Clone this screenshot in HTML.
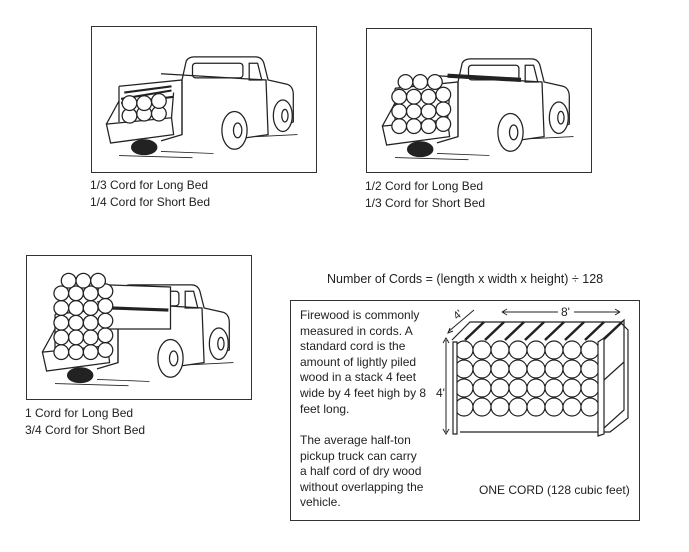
<!DOCTYPE html>
<html><head><meta charset="utf-8"><style>
html,body{margin:0;padding:0;background:#fff;width:689px;height:552px;overflow:hidden;position:relative;font-family:"Liberation Sans",sans-serif;color:#222}
.box{position:absolute;border:1px solid #333;box-sizing:border-box}
.t{position:absolute;font-size:12px;line-height:17px;white-space:nowrap}
svg{position:absolute;left:0;top:0}
</style></head><body>
<div class="box" style="left:91px;top:26px;width:226px;height:147px"></div>
<div class="box" style="left:366px;top:28px;width:226px;height:145px"></div>
<div class="box" style="left:26px;top:255px;width:226px;height:145px"></div>
<div class="box" style="left:290px;top:300px;width:350px;height:221px"></div>

<svg width="689" height="552" viewBox="0 0 689 552" fill="none" stroke="#222" stroke-width="1.2">
<defs>
<g id="truck">
 <path d="M80 40 L84 22 Q86 18 92 18 L150 18 Q156 18 158 24 L162 40 L180 44 Q186 46 186 54 L186 80 L176 84"/>
 <rect x="90" y="24" width="48" height="14" rx="3"/>
 <path d="M144 24 L152 24 L156 40 L144 40 Z"/>
 <path d="M60 34 L160 40 L162 92 L120 98"/>
 <path d="M80 40 L80 92"/>
 <path d="M20 46 L80 40 L80 92 L60 98"/>
 <path d="M20 46 L20 80"/>
 <path d="M8 82 L70 76 L72 92 L12 100 Z"/>
 <path d="M8 82 L20 60 M70 76 L72 52"/>
 <ellipse cx="130" cy="88" rx="12" ry="18" fill="#fff"/>
 <ellipse cx="133" cy="88" rx="4" ry="7"/>
 <ellipse cx="176" cy="74" rx="9" ry="15" fill="#fff"/>
 <ellipse cx="178" cy="74" rx="3" ry="6"/>
 <ellipse cx="44" cy="104" rx="12" ry="7" fill="#222"/>
 <path d="M20 112 L90 114 M60 108 L110 110 M150 94 L190 92" stroke-width="0.8"/>
</g>
<g id="log"><circle r="7" fill="#fff"/></g>
</defs>

<g transform="translate(98,38) scale(1.05)">
 <use href="#truck"/>
 <path d="M22 58 L70 50 M22 62 L72 56 M25 52 L70 46" stroke-width="2"/>
 <use href="#log" x="30" y="74"/><use href="#log" x="44" y="72"/><use href="#log" x="58" y="72"/>
 <use href="#log" x="30" y="62"/><use href="#log" x="44" y="62"/><use href="#log" x="58" y="60"/>
</g>
<g transform="translate(374,40) scale(1.05)">
 <use href="#truck"/>
 <path d="M70 34 L140 38" stroke-width="4"/>
 <use href="#log" x="24" y="82"/><use href="#log" x="38" y="82"/><use href="#log" x="52" y="82"/><use href="#log" x="66" y="80"/>
 <use href="#log" x="24" y="68"/><use href="#log" x="38" y="68"/><use href="#log" x="52" y="68"/><use href="#log" x="66" y="66"/>
 <use href="#log" x="24" y="54"/><use href="#log" x="38" y="54"/><use href="#log" x="52" y="54"/><use href="#log" x="66" y="52"/>
 <use href="#log" x="30" y="40"/><use href="#log" x="44" y="40"/><use href="#log" x="58" y="40"/>
</g>
<g transform="translate(34,266) scale(1.05)">
 <use href="#truck"/>
 <path d="M70 18 L130 20 L130 60 L70 60" fill="#fff"/>
 <path d="M74 40 L128 42" stroke-width="3"/>
 <use href="#log" x="26" y="82"/><use href="#log" x="40" y="82"/><use href="#log" x="54" y="82"/><use href="#log" x="68" y="80"/>
 <use href="#log" x="26" y="68"/><use href="#log" x="40" y="68"/><use href="#log" x="54" y="68"/><use href="#log" x="68" y="66"/>
 <use href="#log" x="26" y="54"/><use href="#log" x="40" y="54"/><use href="#log" x="54" y="54"/><use href="#log" x="68" y="52"/>
 <use href="#log" x="26" y="40"/><use href="#log" x="40" y="40"/><use href="#log" x="54" y="40"/><use href="#log" x="68" y="38"/>
 <use href="#log" x="26" y="26"/><use href="#log" x="40" y="26"/><use href="#log" x="54" y="26"/><use href="#log" x="68" y="24"/>
 <use href="#log" x="33" y="14"/><use href="#log" x="47" y="14"/><use href="#log" x="61" y="14"/>
</g>

<g>
 <path d="M452 340 L470 322 L620 322 L628 330 L628 418 L610 432 L460 432" />
 <path d="M465 340 L484 322 M485 340 L504 322 M505 340 L524 322 M525 340 L544 322 M545 340 L564 322 M565 340 L584 322 M585 340 L604 322 M603 340 L622 322" stroke-width="2.5"/>
 <g fill="#fff">
 <circle cx="464" cy="350" r="9"/><circle cx="482" cy="350" r="9"/><circle cx="500" cy="350" r="9"/><circle cx="518" cy="350" r="9"/><circle cx="536" cy="350" r="9"/><circle cx="554" cy="350" r="9"/><circle cx="572" cy="350" r="9"/><circle cx="590" cy="350" r="9"/>
 <circle cx="464" cy="369" r="9"/><circle cx="482" cy="369" r="9"/><circle cx="500" cy="369" r="9"/><circle cx="518" cy="369" r="9"/><circle cx="536" cy="369" r="9"/><circle cx="554" cy="369" r="9"/><circle cx="572" cy="369" r="9"/><circle cx="590" cy="369" r="9"/>
 <circle cx="464" cy="388" r="9"/><circle cx="482" cy="388" r="9"/><circle cx="500" cy="388" r="9"/><circle cx="518" cy="388" r="9"/><circle cx="536" cy="388" r="9"/><circle cx="554" cy="388" r="9"/><circle cx="572" cy="388" r="9"/><circle cx="590" cy="388" r="9"/>
 <circle cx="464" cy="407" r="9"/><circle cx="482" cy="407" r="9"/><circle cx="500" cy="407" r="9"/><circle cx="518" cy="407" r="9"/><circle cx="536" cy="407" r="9"/><circle cx="554" cy="407" r="9"/><circle cx="572" cy="407" r="9"/><circle cx="590" cy="407" r="9"/>
 </g>
 <path d="M453 342 L457 342 L457 434 L453 434 Z" fill="#fff"/>
 <path d="M598 342 L604 338 L604 434 L598 436 Z" fill="#fff"/>
 <path d="M604 338 L624 320 L624 410 L604 428 M604 380 L624 362"/>
 <path d="M446 340 L446 432 M443 343 L446 338 L449 343 M443 429 L446 434 L449 429" stroke-width="1"/>
 <path d="M448 332 L474 310 M450 328 L448 333 L453 331" stroke-width="1"/>
 <path d="M502 312 L558 312 M620 312 L574 312 M620 312 L615 309 M620 312 L615 315 M502 312 L507 309 M502 312 L507 315" stroke-width="1"/>
</g>
<text x="561" y="316" font-family="Liberation Sans, sans-serif" font-size="12" fill="#222" stroke="none">8'</text>
<text x="457" y="320" font-family="Liberation Sans, sans-serif" font-size="11" fill="#222" stroke="none" transform="rotate(-40 457 320)">4'</text>
<text x="436" y="397" font-family="Liberation Sans, sans-serif" font-size="12" fill="#222" stroke="none">4'</text>
</svg>

<div class="t" style="left:90px;top:177px">1/3 Cord for Long Bed<br>1/4 Cord for Short Bed</div>
<div class="t" style="left:365px;top:178px">1/2 Cord for Long Bed<br>1/3 Cord for Short Bed</div>
<div class="t" style="left:25px;top:405px">1 Cord for Long Bed<br>3/4 Cord for Short Bed</div>
<div class="t" style="left:327px;top:271px;font-size:12.5px">Number of Cords = (length x width x height) ÷ 128</div>
<div class="t" style="left:300px;top:308px;line-height:15.6px">Firewood is commonly<br>measured in cords. A<br>standard cord is the<br>amount of lightly piled<br>wood in a stack 4 feet<br>wide by 4 feet high by 8<br>feet long.</div>
<div class="t" style="left:300px;top:433px;line-height:15.6px">The average half-ton<br>pickup truck can carry<br>a half cord of dry wood<br>without overlapping the<br>vehicle.</div>
<div class="t" style="left:479px;top:482px">ONE CORD (128 cubic feet)</div>
</body></html>
